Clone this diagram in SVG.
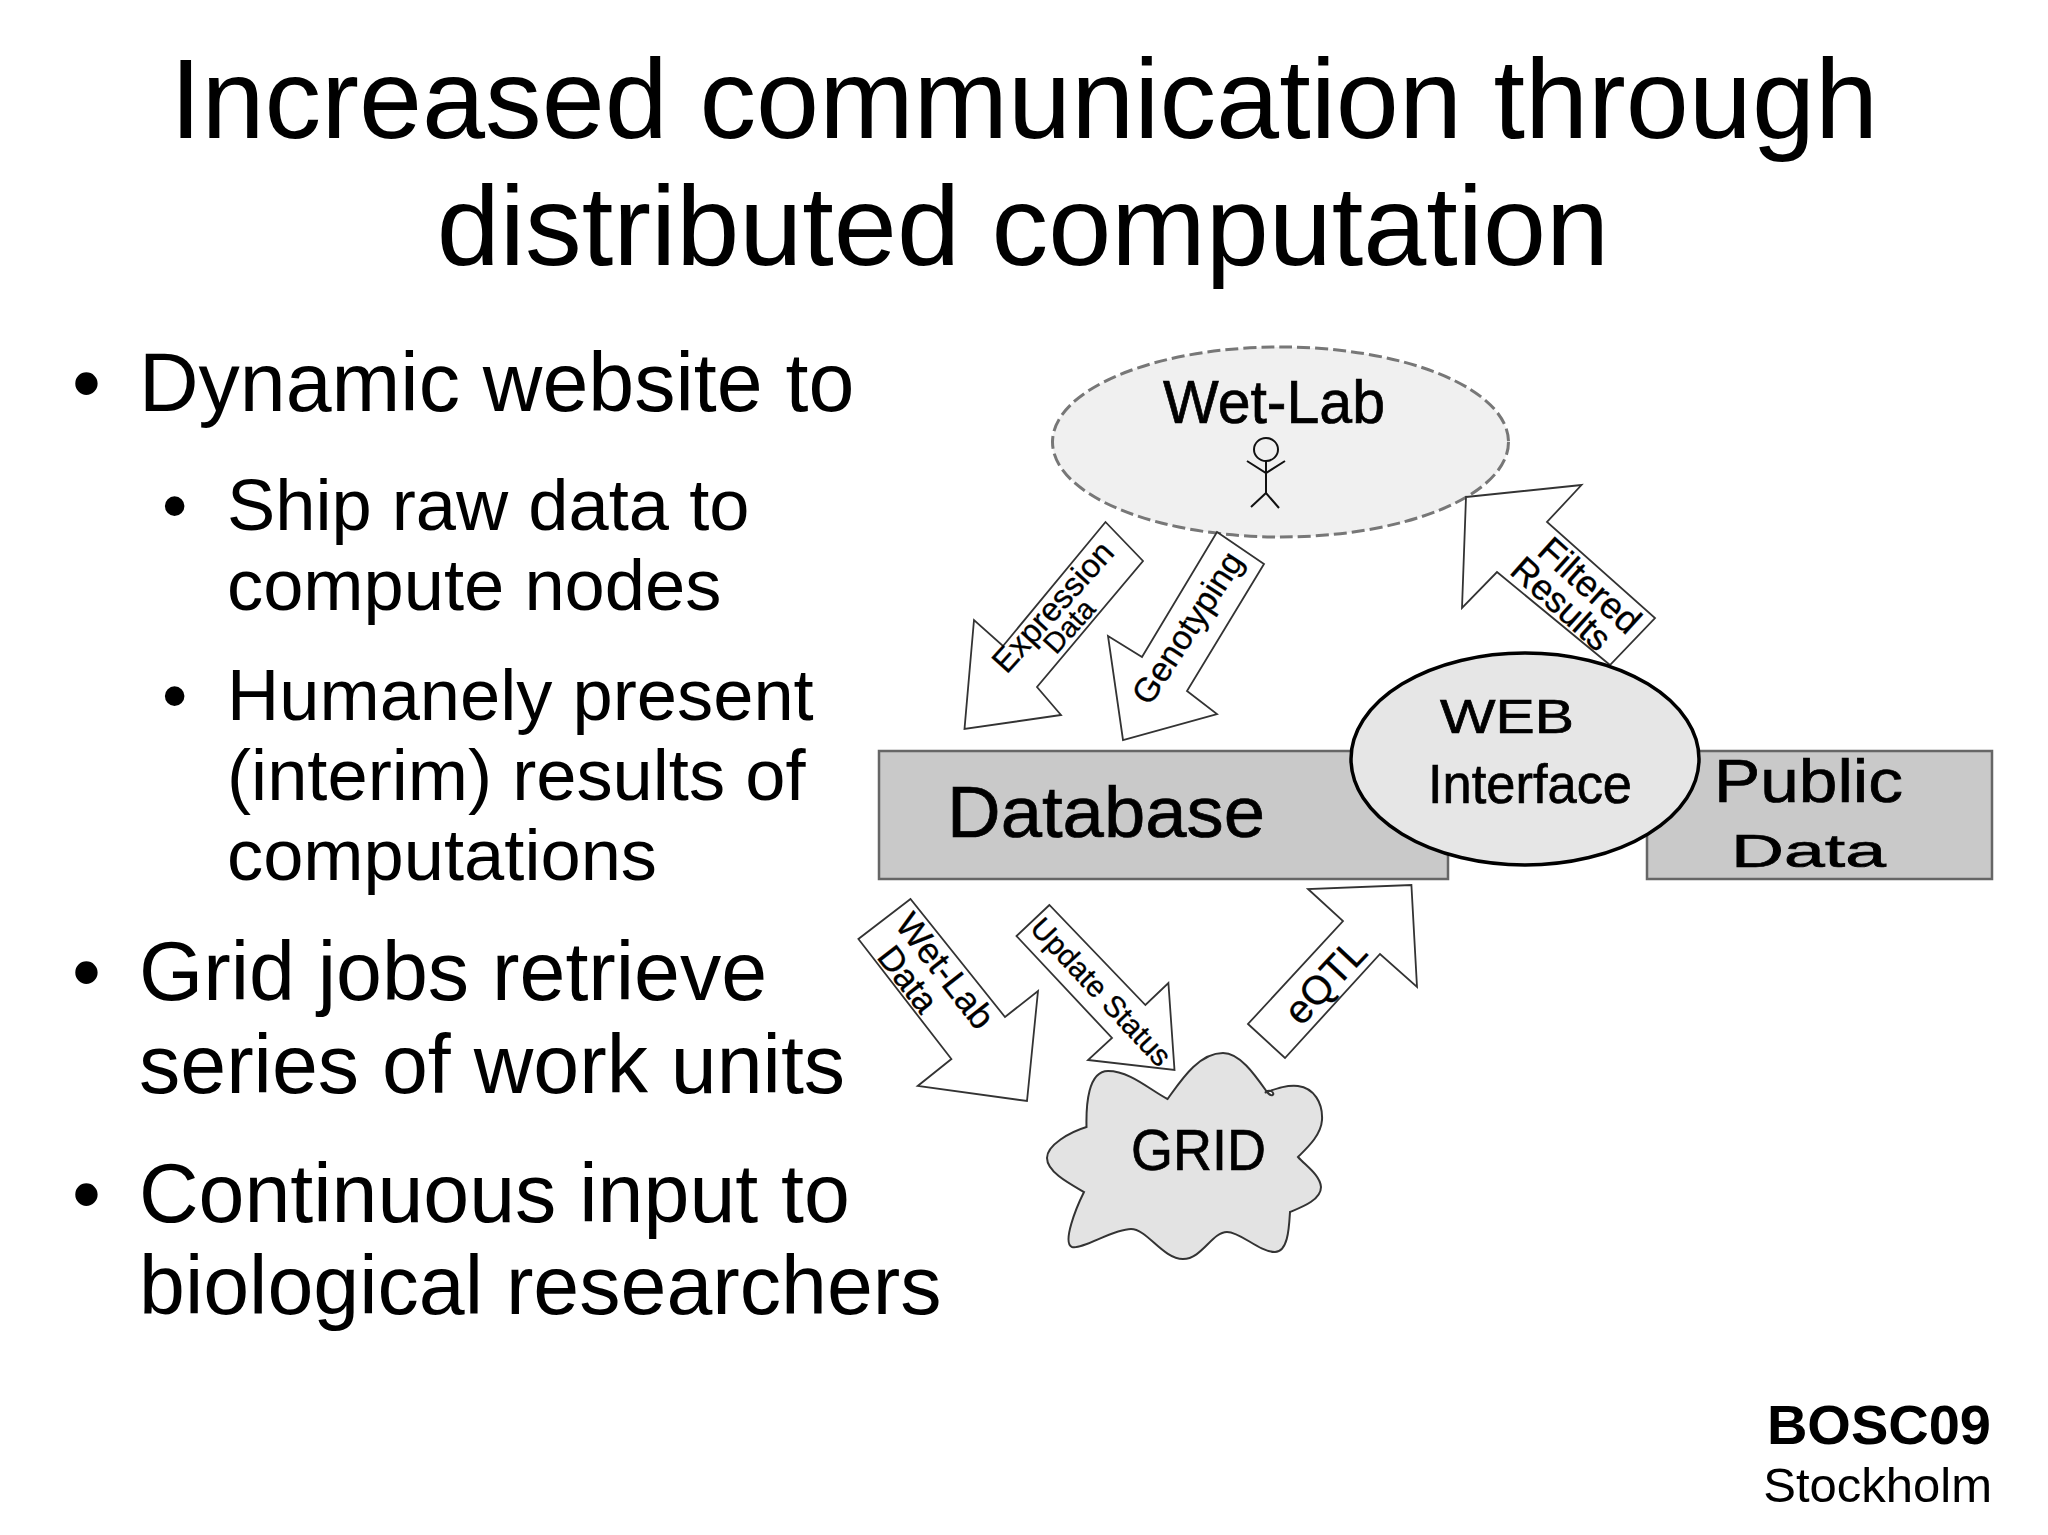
<svg xmlns="http://www.w3.org/2000/svg" width="2048" height="1535" viewBox="0 0 2048 1535">
<style>
text{font-family:"Liberation Sans",Arial,sans-serif;fill:#000}
.title{font-size:113.400px;text-anchor:middle}
.b1{font-size:82.500px}
.b2{font-size:72.300px}
.arrow{fill:#fff;stroke:#333;stroke-width:1.8;stroke-linejoin:miter}
.box{fill:#c9c9c9;stroke:#666;stroke-width:2.5}
.lab{text-anchor:middle;stroke:#000;stroke-width:.3}
.fig{fill:none;stroke:#111;stroke-width:2}
.big{stroke:#000;stroke-width:.7}
</style>
<rect width="2048" height="1535" fill="#fff"/>
<g id="title">
<text class="title" x="1024" y="138">Increased communication through</text>
<text class="title" x="1023" y="265">distributed computation</text>
</g>
<g id="bullets">
<text class="b1" x="72" y="411">•</text><text class="b1" x="139" y="411">Dynamic website to</text>
<text class="b2" x="162" y="530">•</text><text class="b2" x="227" y="530">Ship raw data to</text>
<text class="b2" x="227" y="610">compute nodes</text>
<text class="b2" x="162" y="720">•</text><text class="b2" x="227" y="720">Humanely present</text>
<text class="b2" x="227" y="800">(interim) results of</text>
<text class="b2" x="227" y="880">computations</text>
<text class="b1" x="72" y="1000">•</text><text class="b1" x="139" y="1000">Grid jobs retrieve</text>
<text class="b1" x="139" y="1093">series of work units</text>
<text class="b1" x="72" y="1222">•</text><text class="b1" x="139" y="1222">Continuous input to</text>
<text class="b1" x="139" y="1314">biological researchers</text>
</g>
<g id="footer">
<text x="1991" y="1444" text-anchor="end" font-size="56" font-weight="bold">BOSC09</text>
<text x="1992" y="1502" text-anchor="end" font-size="49">Stockholm</text>
</g>
<g id="wetlab">
<ellipse cx="1280.5" cy="442" rx="228" ry="95" fill="#f0f0f0" stroke="#777" stroke-width="3" stroke-dasharray="13 5"/>
<text class="big" x="1163" y="423" font-size="62" textLength="222" lengthAdjust="spacingAndGlyphs">Wet-Lab</text>
<ellipse class="fig" cx="1266" cy="449.500" rx="12" ry="11.500"/>
<path class="fig" d="M1266 461V493M1247 461L1266 473L1285 461M1251 507L1266 493L1279 508"/>
</g>
<g id="connectors">
<g id="arrow-expression">
<path class="arrow" d="M1105.500 522L1143 561L1037 687L1061 715L964.500 729L974 620L1003 646Z"/>
<text class="lab" font-size="33" transform="translate(1053 607) rotate(-48) translate(0 11)">Expression</text>
<text class="lab" font-size="29" transform="translate(1069 626) rotate(-48) translate(0 10)">Data</text>
</g>
<g id="arrow-genotyping">
<path class="arrow" d="M1217 532L1264 564L1187 691L1217 714L1123 740L1108 636L1142 657Z"/>
<text class="lab" font-size="34" transform="translate(1188 628) rotate(-57) translate(0 11)">Genotyping</text>
</g>
<g id="arrow-filtered">
<path class="arrow" d="M1466 497L1581.500 485L1547 522L1655 618L1610 665L1497 572L1462 608Z"/>
<text class="lab" font-size="37" transform="translate(1590 585) rotate(42) translate(0 13)">Filtered</text>
<text class="lab" font-size="36" transform="translate(1561 604) rotate(42) translate(0 12)">Results</text>
</g>
<g id="arrow-wetlabdata">
<path class="arrow" d="M910.500 899L858.400 939L951.400 1059L917.700 1086L1027 1101L1038 991L1005 1017Z"/>
<text class="lab" font-size="36" transform="translate(945 971) rotate(52) translate(0 12)">Wet-Lab</text>
<text class="lab" font-size="35" transform="translate(908 979) rotate(52) translate(0 12)">Data</text>
</g>
<g id="arrow-update">
<path class="arrow" d="M1049.400 905L1016.500 936L1112 1038L1088 1060L1174.500 1070L1168.400 983L1145.400 1005Z"/>
<text class="lab" font-size="30" transform="translate(1101 992) rotate(47) translate(0 10)">Update Status</text>
</g>
<g id="arrow-eqtl">
<path class="arrow" d="M1248 1024L1285 1058L1380 954L1417 987L1411.400 885L1308 889L1343 921Z"/>
<text class="lab" font-size="40" transform="translate(1325 981) rotate(-47) translate(0 14)">eQTL</text>
</g>
</g>
<g id="database">
<rect class="box" x="879" y="751" width="569" height="128"/>
<text class="big" x="947" y="837" font-size="72" textLength="318" lengthAdjust="spacingAndGlyphs">Database</text>
</g>
<g id="public-data">
<rect class="box" x="1647" y="751" width="345" height="128"/>
<text class="big" x="1714" y="802" font-size="61" textLength="189" lengthAdjust="spacingAndGlyphs">Public</text>
<text class="big" x="1731" y="867" font-size="46" textLength="155" lengthAdjust="spacingAndGlyphs">Data</text>
</g>
<g id="web-interface">
<ellipse cx="1525" cy="759" rx="174" ry="106" fill="#e6e6e6" stroke="#000" stroke-width="3.500"/>
<text class="big" x="1440" y="733" font-size="49" textLength="134" lengthAdjust="spacingAndGlyphs">WEB</text>
<text class="big" x="1428" y="803" font-size="56" textLength="204" lengthAdjust="spacingAndGlyphs">Interface</text>
</g>
<g id="grid">
<path d="M1167.600 1099C1180 1082 1198 1053 1223 1053C1240 1053 1255 1075 1267 1092C1272 1098 1276 1094 1271 1091C1266 1090 1264 1094 1267 1092C1278 1088 1287 1085 1298 1086C1314 1088 1323 1103 1322 1120C1321 1135 1308 1147 1298 1157C1306 1166 1320 1175 1321 1187C1321 1200 1302 1207 1290 1212C1289 1228 1288 1252 1275 1252C1259 1252 1241 1232 1227 1232C1212 1232 1202 1259 1183 1259C1163 1259 1147 1229 1131 1229C1113 1229 1082 1250 1072 1247C1062 1243 1076 1208 1084 1192C1070 1184 1047 1172 1047 1158C1047 1145 1070 1132 1086.500 1127C1086 1105 1088 1071 1108 1071C1130 1071 1150 1090 1167.600 1099Z" fill="#e3e3e3" stroke="#333" stroke-width="2"/>
<text class="big" x="1131" y="1170" font-size="58" textLength="135" lengthAdjust="spacingAndGlyphs">GRID</text>
</g>
</svg>
